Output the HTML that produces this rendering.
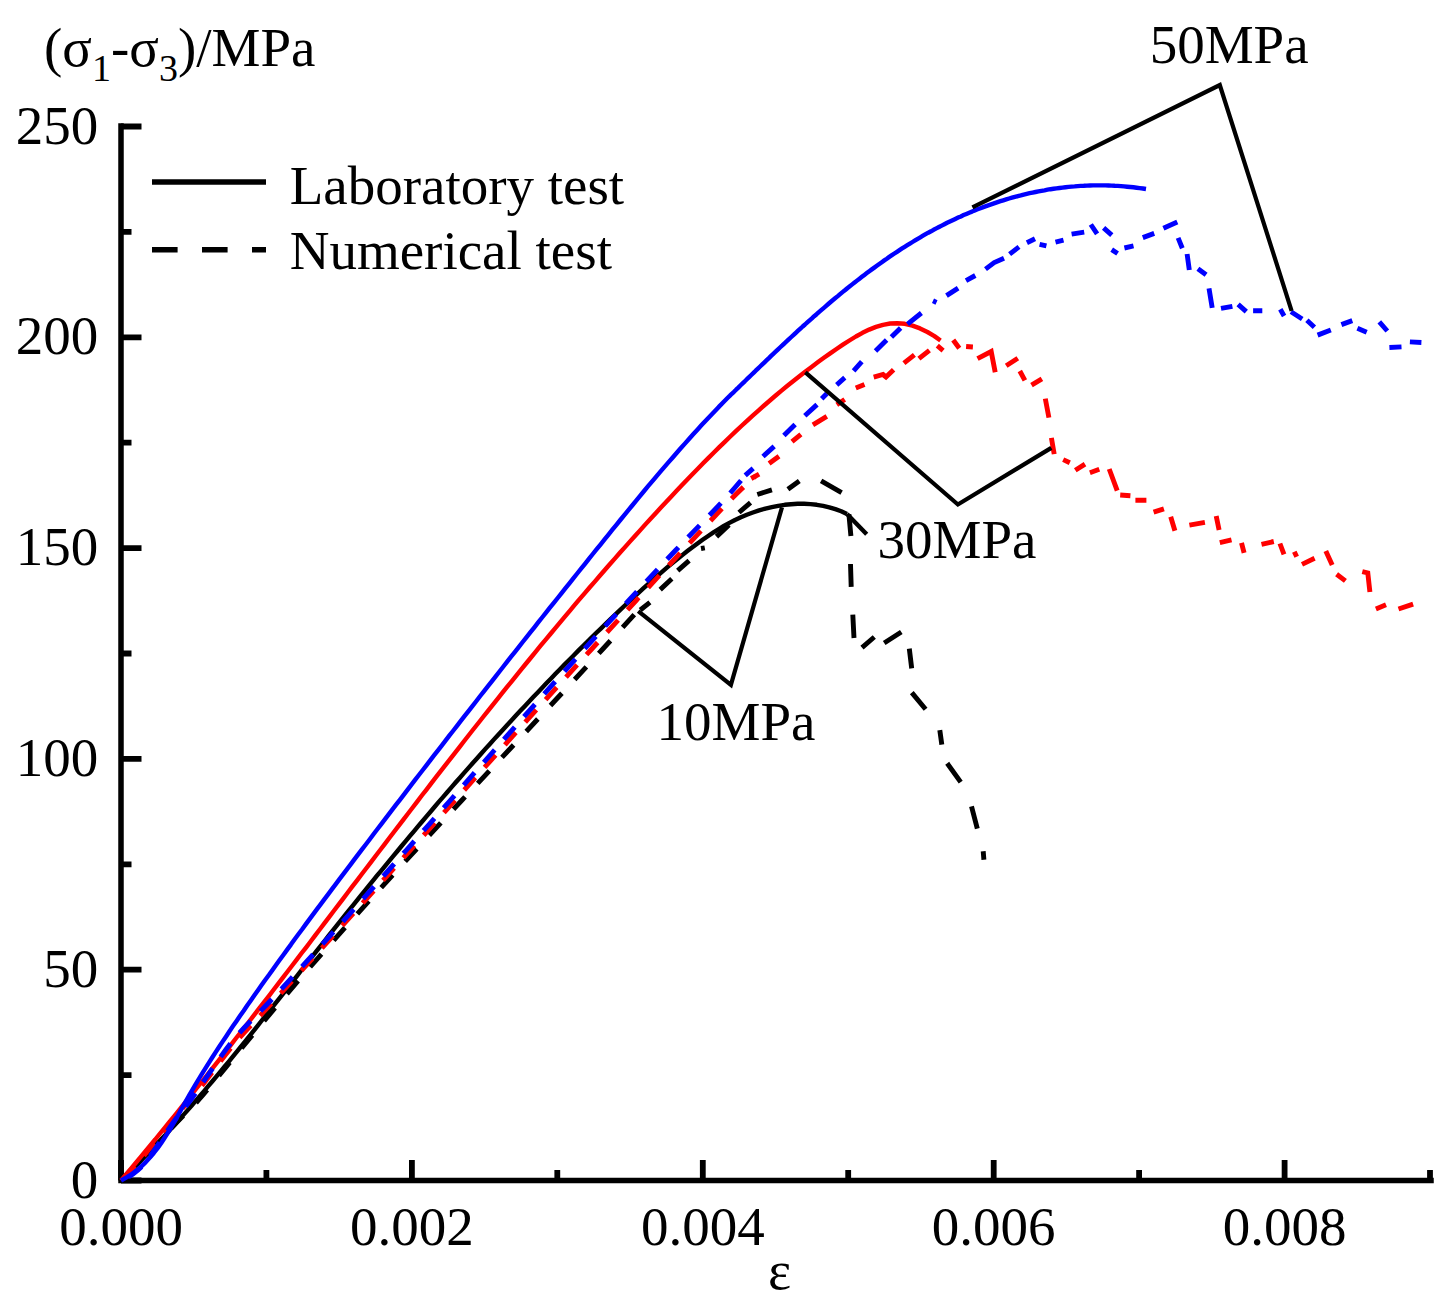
<!DOCTYPE html>
<html><head><meta charset="utf-8"><style>
html,body{margin:0;padding:0;background:#fff;}
body{width:1448px;height:1306px;overflow:hidden;font-family:"Liberation Serif",serif;}
svg{display:block;}
</style></head><body>
<svg width="1448" height="1306" viewBox="0 0 1448 1306">
<rect width="1448" height="1306" fill="#fff"/>
<g stroke="#000" stroke-width="5.5" fill="none" stroke-linecap="square">
<path d="M121,126 L121,1180.5 L1431,1180.5"/>
</g>
<path d="M121,1180.5 L141.5,1180.5 M121,1075.1 L131.5,1075.1 M121,969.7 L141.5,969.7 M121,864.3 L131.5,864.3 M121,758.9 L141.5,758.9 M121,653.5 L131.5,653.5 M121,548.1 L141.5,548.1 M121,442.7 L131.5,442.7 M121,337.3 L141.5,337.3 M121,231.9 L131.5,231.9 M121,126.5 L141.5,126.5 M121.0,1180.5 L121.0,1160 M266.4,1180.5 L266.4,1170 M411.9,1180.5 L411.9,1160 M557.3,1180.5 L557.3,1170 M702.8,1180.5 L702.8,1160 M848.2,1180.5 L848.2,1170 M993.7,1180.5 L993.7,1160 M1139.1,1180.5 L1139.1,1170 M1284.6,1180.5 L1284.6,1160 M1430.0,1180.5 L1430.0,1170" stroke="#000" stroke-width="5.8" fill="none"/>
<text x="98.3" y="1197.5" font-size="55" text-anchor="end" font-family="Liberation Serif" fill="#000">0</text>
<text x="98.3" y="986.7" font-size="55" text-anchor="end" font-family="Liberation Serif" fill="#000">50</text>
<text x="98.3" y="775.9" font-size="55" text-anchor="end" font-family="Liberation Serif" fill="#000">100</text>
<text x="98.3" y="565.1" font-size="55" text-anchor="end" font-family="Liberation Serif" fill="#000">150</text>
<text x="98.3" y="354.3" font-size="55" text-anchor="end" font-family="Liberation Serif" fill="#000">200</text>
<text x="98.3" y="143.5" font-size="55" text-anchor="end" font-family="Liberation Serif" fill="#000">250</text>
<text x="121.0" y="1245" font-size="55" text-anchor="middle" font-family="Liberation Serif" fill="#000">0.000</text>
<text x="411.9" y="1245" font-size="55" text-anchor="middle" font-family="Liberation Serif" fill="#000">0.002</text>
<text x="702.8" y="1245" font-size="55" text-anchor="middle" font-family="Liberation Serif" fill="#000">0.004</text>
<text x="993.7" y="1245" font-size="55" text-anchor="middle" font-family="Liberation Serif" fill="#000">0.006</text>
<text x="1284.6" y="1245" font-size="55" text-anchor="middle" font-family="Liberation Serif" fill="#000">0.008</text>
<text x="779.5" y="1289" font-size="55" text-anchor="middle" font-family="Liberation Serif" fill="#000">ε</text>
<text x="44" y="65.5" font-size="55" font-family="Liberation Serif" fill="#000">(σ<tspan font-size="38" dy="15.5">1</tspan><tspan dy="-15.5">-σ</tspan><tspan font-size="38" dy="15.5">3</tspan><tspan dy="-15.5">)/MPa</tspan></text>
<path d="M152,182 L266,182" stroke="#000" stroke-width="5.4" fill="none"/>
<path d="M152,249.7 L266,249.7" stroke="#000" stroke-width="5.4" fill="none" stroke-dasharray="25.6 24.4"/>
<text x="289.7" y="203.5" font-size="55" font-family="Liberation Serif" fill="#000">Laboratory test</text>
<text x="289.7" y="269" font-size="55" font-family="Liberation Serif" fill="#000">Numerical test</text>
<path d="M121.0,1180.5 L125.6,1176.0 L130.2,1171.5 L134.7,1166.9 L139.3,1162.4 L143.7,1157.8 L148.2,1153.2 L152.6,1148.5 L157.1,1143.8 L161.4,1139.1 L165.8,1134.4 L170.1,1129.7 L174.5,1124.9 L178.7,1120.2 L183.0,1115.4 L187.3,1110.6 L191.5,1105.7 L195.7,1100.9 L199.9,1096.0 L204.1,1091.1 L208.2,1086.2 L212.4,1081.3 L216.5,1076.4 L220.6,1071.5 L224.7,1066.5 L228.8,1061.6 L232.8,1056.6 L236.9,1051.6 L240.9,1046.6 L245.0,1041.6 L249.0,1036.6 L253.0,1031.6 L257.0,1026.6 L261.0,1021.5 L265.0,1016.5 L269.0,1011.5 L273.0,1006.4 L277.0,1001.4 L281.0,996.3 L284.9,991.3 L288.9,986.2 L292.9,981.1 L296.9,976.1 L300.8,971.0 L304.8,966.0 L308.8,960.9 L312.8,955.9 L316.7,950.8 L320.7,945.8 L324.7,940.8 L328.7,935.7 L332.7,930.7 L336.7,925.7 L340.7,920.7 L344.7,915.6 L348.7,910.6 L352.8,905.6 L356.8,900.6 L360.8,895.6 L364.9,890.6 L368.9,885.7 L373.0,880.7 L377.0,875.7 L381.1,870.8 L385.2,865.8 L389.3,860.8 L393.4,855.9 L397.5,851.0 L401.6,846.0 L405.7,841.1 L409.8,836.2 L413.9,831.3 L418.0,826.4 L422.2,821.5 L426.3,816.6 L430.5,811.7 L434.7,806.8 L438.8,801.9 L443.0,797.1 L447.2,792.2 L451.4,787.4 L455.6,782.5 L459.9,777.7 L464.1,772.9 L468.3,768.1 L472.6,763.3 L476.9,758.5 L481.1,753.7 L485.4,748.9 L489.7,744.2 L494.0,739.4 L498.3,734.7 L502.7,729.9 L507.0,725.2 L511.4,720.5 L515.7,715.8 L520.1,711.1 L524.5,706.4 L528.9,701.7 L533.3,697.0 L537.7,692.4 L542.2,687.7 L546.6,683.1 L551.1,678.4 L555.5,673.8 L560.0,669.2 L564.5,664.6 L569.1,660.0 L573.6,655.5 L578.1,650.9 L582.7,646.4 L587.3,641.8 L591.8,637.3 L596.4,632.8 L601.1,628.3 L605.7,623.8 L610.3,619.3 L615.0,614.9 L619.7,610.4 L624.3,606.0 L629.1,601.5 L633.8,597.1 L638.5,592.8 L643.3,588.4 L648.1,584.1 L652.9,579.8 L657.7,575.6 L662.6,571.4 L667.5,567.2 L672.4,563.1 L677.4,559.1 L682.3,555.1 L687.4,551.1 L692.4,547.3 L697.5,543.5 L702.6,539.8 L707.8,536.2 L713.1,532.7 L718.4,529.3 L723.8,526.0 L729.4,522.9 L735.0,520.0 L740.9,517.3 L746.8,514.8 L752.9,512.5 L759.1,510.4 L765.4,508.6 L771.8,507.1 L778.2,505.8 L784.7,504.8 L791.1,504.2 L797.6,503.8 L804.1,503.8 L810.5,504.1 L816.8,504.8 L823.1,505.8 L829.3,507.3 L835.3,509.1 L841.2,511.3 L847.0,514.0" stroke="#000000" stroke-width="4.4" fill="none" stroke-linecap="butt" stroke-linejoin="round"/>
<path d="M847.0,514.0 L866.7,534.2" stroke="#000000" stroke-width="4.4" fill="none" stroke-linecap="butt"/>
<path d="M121.0,1180.5 C125.8,1175.4 140.2,1160.2 150.0,1150.0 C159.8,1139.8 171.9,1127.3 180.0,1119.0 C188.1,1110.7 188.6,1111.5 198.6,1100.0 C208.6,1088.5 226.2,1066.7 240.1,1050.0 C253.9,1033.3 267.5,1016.7 281.7,1000.0 C295.9,983.3 310.4,966.7 325.1,950.0 C339.8,933.3 354.8,916.7 369.9,900.0 C385.0,883.3 400.3,866.7 415.7,850.0 C431.0,833.3 446.6,816.7 462.1,800.0 C477.7,783.3 493.3,766.7 508.9,750.0 C524.5,733.3 540.1,716.7 555.6,700.0 C571.1,683.3 591.2,661.7 601.9,650.0 C612.7,638.3 614.0,636.8 620.3,630.0 C626.5,623.2 636.2,612.5 639.3,609.0" stroke="#000000" stroke-width="4.9" fill="none" stroke-linecap="butt" stroke-dasharray="17 18.5" stroke-dashoffset="33.94"/>
<path d="M640.3,610.0 L649.9,602.4 M660.2,589.6 L671.8,578.8 M677.7,570.6 L689.1,560.6 M701.0,548.5 L704.8,547.8 M716.5,536.6 L729.0,524.9 M739.0,512.5 L750.5,502.6 M757.3,494.5 L771.9,489.9 M787.9,489.3 L799.3,481.0 M821.1,480.9 L841.6,492.7 M848.9,514.2 L850.9,536.0 M850.5,564.0 L851.2,586.9 M852.8,614.6 L854.0,638.0 M862.0,647.6 L874.3,637.0 M884.2,643.0 L901.3,632.0 M909.3,648.6 L911.7,668.4 M911.8,692.6 L925.6,709.2 M939.8,730.2 L941.8,744.7 M947.2,763.3 L960.7,782.1 M971.5,806.3 L977.3,828.7 M983.2,851.3 L983.9,859.7" stroke="#000000" stroke-width="4.9" fill="none" stroke-linecap="butt" stroke-linejoin="miter"/>
<path d="M121.0,1180.5 L125.9,1174.7 L130.8,1168.8 L135.7,1163.0 L140.6,1157.1 L145.5,1151.2 L150.3,1145.3 L155.2,1139.5 L160.0,1133.5 L164.9,1127.6 L169.7,1121.7 L174.5,1115.8 L179.3,1109.9 L184.1,1103.9 L188.9,1098.0 L193.6,1092.0 L198.4,1086.0 L203.1,1080.0 L207.9,1074.1 L212.6,1068.1 L217.4,1062.1 L222.1,1056.1 L226.8,1050.1 L231.5,1044.1 L236.2,1038.0 L240.9,1032.0 L245.6,1026.0 L250.3,1020.0 L255.0,1013.9 L259.6,1007.9 L264.3,1001.8 L269.0,995.8 L273.6,989.7 L278.3,983.7 L282.9,977.6 L287.6,971.5 L292.2,965.5 L296.9,959.4 L301.5,953.3 L306.2,947.3 L310.8,941.2 L315.4,935.1 L320.1,929.0 L324.7,922.9 L329.3,916.9 L333.9,910.8 L338.6,904.7 L343.2,898.6 L347.8,892.5 L352.4,886.4 L357.1,880.4 L361.7,874.3 L366.3,868.2 L371.0,862.1 L375.6,856.0 L380.2,850.0 L384.9,843.9 L389.5,837.8 L394.1,831.7 L398.8,825.7 L403.4,819.6 L408.1,813.5 L412.7,807.5 L417.4,801.4 L422.0,795.3 L426.7,789.3 L431.4,783.2 L436.0,777.2 L440.7,771.2 L445.4,765.1 L450.1,759.1 L454.8,753.1 L459.5,747.1 L464.2,741.0 L468.9,735.0 L473.6,729.0 L478.4,723.0 L483.1,717.0 L487.8,711.1 L492.6,705.1 L497.4,699.1 L502.1,693.2 L506.9,687.2 L511.7,681.3 L516.5,675.3 L521.3,669.4 L526.1,663.5 L531.0,657.5 L535.8,651.6 L540.6,645.7 L545.5,639.9 L550.4,634.0 L555.3,628.1 L560.1,622.3 L565.1,616.4 L570.0,610.6 L574.9,604.7 L579.8,598.9 L584.8,593.1 L589.8,587.3 L594.8,581.6 L599.8,575.8 L604.8,570.0 L609.8,564.3 L614.8,558.6 L619.9,552.8 L625.0,547.1 L630.1,541.4 L635.2,535.8 L640.3,530.1 L645.4,524.4 L650.6,518.8 L655.7,513.2 L660.9,507.6 L666.1,502.0 L671.3,496.4 L676.6,490.8 L681.8,485.3 L687.1,479.7 L692.4,474.2 L697.8,468.8 L703.1,463.3 L708.5,457.9 L713.9,452.5 L719.3,447.1 L724.8,441.8 L730.3,436.5 L735.9,431.2 L741.4,426.0 L747.0,420.8 L752.7,415.7 L758.4,410.6 L764.1,405.5 L769.9,400.5 L775.7,395.5 L781.5,390.6 L787.4,385.8 L793.4,381.0 L799.4,376.2 L805.5,371.5 L811.6,366.9 L817.7,362.3 L823.9,357.8 L830.2,353.4 L836.5,349.0 L842.9,344.7 L849.4,340.5 L855.9,336.5 L862.5,332.8 L869.2,329.6 L876.0,326.9 L883.0,324.8 L890.1,323.5 L897.3,323.2 L904.8,323.8 L912.4,325.6 L920.0,328.4 L927.4,332.0 L934.4,336.1 L940.5,340.5" stroke="#ff0000" stroke-width="4.4" fill="none" stroke-linecap="butt" stroke-linejoin="round"/>
<path d="M121.0,1180.5 C123.3,1178.2 130.2,1172.4 135.0,1167.0 C139.8,1161.6 143.3,1156.3 150.0,1148.0 C156.7,1139.7 166.7,1127.0 175.0,1117.0 C183.3,1107.0 190.0,1100.3 200.0,1088.0 C210.0,1075.7 222.6,1057.7 235.0,1043.0 C247.5,1028.3 260.4,1015.5 274.6,1000.0 C288.8,984.5 305.1,966.7 320.2,950.0 C335.3,933.3 350.4,916.7 365.4,900.0 C380.4,883.3 395.4,866.7 410.4,850.0 C425.4,833.3 440.3,816.7 455.3,800.0 C470.2,783.3 485.2,766.7 500.2,750.0 C515.2,733.3 530.2,716.7 545.3,700.0 C560.4,683.3 575.5,666.7 590.8,650.0 C606.0,633.3 621.2,616.7 636.6,600.0 C652.0,583.3 667.5,566.7 683.1,550.0 C698.7,533.3 718.3,512.3 730.3,500.0 C742.3,487.7 750.9,480.2 755.0,476.3" stroke="#ff0000" stroke-width="4.9" fill="none" stroke-linecap="butt" stroke-dasharray="16.5 13.9" stroke-dashoffset="26.99"/>
<path d="M751.2,478.5 L759.1,474.1 M769.1,463.5 L779.0,456.3 M792.0,441.6 L800.9,434.4 M812.9,424.8 L826.8,416.4 M836.8,404.8 L844.7,399.5 M855.8,388.0 L864.5,384.4 M873.7,377.1 L883.0,374.5 L886.0,377.0 L893.6,369.7 M903.9,363.2 L914.4,354.9 M918.9,358.6 L929.4,350.3 M937.3,345.7 L943.1,350.6 M953.2,340.0 L959.3,348.2 M966.1,346.5 L972.9,347.0 M977.5,358.7 L991.2,351.5 L995.2,372.2 M1006.2,365.7 L1017.8,358.2 M1019.8,371.0 L1024.9,380.4 M1031.5,385.2 L1041.9,378.9 M1045.3,398.6 L1048.9,417.6 M1051.4,437.8 L1054.2,454.1 M1063.2,459.6 L1069.8,462.7 M1075.3,470.3 L1085.0,464.1 M1089.9,472.7 L1099.3,469.3 M1109.2,469.0 L1117.2,490.6 M1120.2,495.0 L1130.4,495.7 M1135.4,500.3 L1146.4,500.3 M1153.6,512.2 L1163.9,508.8 M1170.7,516.8 L1174.9,530.8 M1189.4,525.2 L1204.9,522.4 M1216.2,516.1 L1219.1,530.1 M1219.8,542.7 L1231.5,539.9 M1241.5,542.8 L1244.1,552.8 M1261.5,544.3 L1273.8,541.5 M1279.9,543.5 L1284.0,554.4 M1294.3,551.7 L1296.7,556.7 M1302.0,564.4 L1314.6,558.3 M1325.8,550.9 L1332.2,565.0 M1336.6,574.2 L1345.4,580.9 M1362.3,571.6 L1367.8,573.0 L1369.9,592.0 M1375.9,609.0 L1386.0,604.8 M1398.5,609.0 L1413.1,604.1" stroke="#ff0000" stroke-width="4.9" fill="none" stroke-linecap="butt" stroke-linejoin="miter"/>
<path d="M121.0,1180.5 L126.6,1177.4 L131.9,1174.0 L136.8,1170.3 L141.4,1166.3 L145.8,1162.1 L149.9,1157.6 L153.8,1153.0 L157.6,1148.1 L161.1,1143.2 L164.5,1138.0 L167.8,1132.8 L171.1,1127.5 L174.2,1122.1 L177.3,1116.6 L180.3,1111.1 L183.4,1105.6 L186.5,1100.2 L189.6,1094.7 L192.7,1089.3 L195.9,1083.9 L199.1,1078.5 L202.4,1073.2 L205.7,1067.9 L209.0,1062.6 L212.4,1057.3 L215.7,1052.1 L219.2,1046.8 L222.6,1041.6 L226.1,1036.4 L229.5,1031.2 L233.0,1026.1 L236.6,1020.9 L240.1,1015.8 L243.7,1010.7 L247.2,1005.5 L250.8,1000.4 L254.4,995.3 L258.0,990.2 L261.6,985.1 L265.2,980.0 L268.9,975.0 L272.5,969.9 L276.2,964.8 L279.8,959.8 L283.5,954.7 L287.2,949.6 L290.9,944.6 L294.5,939.5 L298.2,934.5 L302.0,929.5 L305.7,924.4 L309.4,919.4 L313.1,914.4 L316.8,909.4 L320.6,904.4 L324.3,899.4 L328.1,894.4 L331.8,889.4 L335.6,884.4 L339.3,879.4 L343.1,874.4 L346.9,869.4 L350.7,864.4 L354.4,859.4 L358.2,854.4 L362.0,849.4 L365.8,844.5 L369.6,839.5 L373.3,834.5 L377.1,829.5 L380.9,824.6 L384.7,819.6 L388.5,814.6 L392.3,809.7 L396.1,804.7 L399.9,799.8 L403.7,794.8 L407.5,789.8 L411.3,784.9 L415.1,779.9 L418.9,775.0 L422.8,770.0 L426.6,765.1 L430.4,760.1 L434.2,755.2 L438.0,750.3 L441.9,745.3 L445.7,740.4 L449.5,735.4 L453.4,730.5 L457.2,725.6 L461.0,720.7 L464.9,715.7 L468.7,710.8 L472.6,705.9 L476.4,701.0 L480.2,696.0 L484.1,691.1 L488.0,686.2 L491.8,681.3 L495.7,676.4 L499.5,671.5 L503.4,666.5 L507.2,661.6 L511.1,656.7 L515.0,651.8 L518.9,646.9 L522.7,642.0 L526.6,637.1 L530.5,632.2 L534.4,627.3 L538.2,622.4 L542.1,617.5 L546.0,612.6 L549.9,607.7 L553.8,602.9 L557.7,598.0 L561.6,593.1 L565.5,588.2 L569.4,583.3 L573.3,578.4 L577.2,573.5 L581.1,568.7 L585.0,563.8 L588.9,558.9 L592.8,554.0 L596.7,549.2 L600.7,544.3 L604.6,539.4 L608.5,534.6 L612.4,529.7 L616.4,524.8 L620.3,520.0 L624.3,515.1 L628.2,510.3 L632.2,505.5 L636.2,500.6 L640.1,495.8 L644.1,491.0 L648.1,486.2 L652.2,481.4 L656.2,476.6 L660.2,471.9 L664.3,467.1 L668.4,462.4 L672.5,457.7 L676.6,453.0 L680.7,448.3 L684.9,443.6 L689.0,439.0 L693.2,434.3 L697.4,429.7 L701.6,425.1 L705.9,420.5 L710.2,416.0 L714.5,411.5 L718.8,406.9 L723.1,402.5 L727.5,398.0 L729.7,395.9 L731.8,393.8 L734.0,391.8 L736.1,389.7 L738.3,387.6 L740.4,385.5 L742.6,383.4 L744.8,381.3 L746.9,379.2 L749.1,377.1 L751.3,375.0 L753.5,372.9 L755.7,370.7 L757.9,368.6 L760.1,366.5 L762.3,364.4 L764.5,362.3 L766.7,360.2 L768.9,358.1 L771.1,355.9 L773.3,353.8 L775.6,351.7 L777.8,349.6 L780.0,347.5 L782.3,345.4 L784.5,343.3 L786.8,341.2 L789.0,339.1 L791.3,337.0 L793.6,334.9 L795.8,332.8 L798.1,330.7 L800.4,328.6 L802.7,326.5 L805.0,324.5 L807.3,322.4 L809.6,320.3 L811.9,318.3 L814.2,316.2 L816.6,314.2 L818.9,312.1 L821.2,310.1 L823.6,308.1 L825.9,306.1 L828.3,304.0 L830.6,302.0 L833.0,300.0 L835.4,298.0 L837.8,296.1 L840.1,294.1 L842.5,292.1 L844.9,290.2 L847.3,288.2 L849.8,286.3 L852.2,284.4 L854.6,282.5 L857.0,280.6 L859.5,278.7 L861.9,276.8 L864.4,274.9 L866.8,273.1 L869.3,271.2 L871.8,269.4 L874.3,267.6 L876.8,265.8 L879.3,264.0 L881.8,262.2 L884.3,260.4 L886.8,258.7 L889.3,256.9 L891.9,255.2 L894.4,253.5 L897.0,251.8 L899.5,250.1 L902.1,248.4 L904.7,246.8 L907.3,245.2 L909.9,243.6 L912.5,242.0 L915.1,240.4 L917.7,238.8 L920.3,237.3 L923.0,235.7 L925.6,234.2 L928.3,232.7 L931.0,231.3 L933.6,229.8 L936.3,228.4 L939.0,227.0 L941.7,225.6 L944.4,224.2 L947.1,222.8 L949.9,221.5 L952.6,220.2 L955.3,218.9 L958.1,217.6 L960.9,216.4 L963.6,215.1 L966.4,213.9 L969.2,212.7 L972.0,211.6 L974.8,210.4 L977.6,209.3 L980.5,208.2 L983.3,207.1 L986.1,206.1 L989.0,205.1 L991.8,204.1 L994.7,203.1 L997.6,202.1 L1000.4,201.2 L1003.3,200.3 L1006.2,199.4 L1009.1,198.5 L1012.0,197.7 L1014.9,196.9 L1017.9,196.1 L1020.8,195.4 L1023.7,194.6 L1026.7,193.9 L1029.6,193.2 L1032.6,192.6 L1035.5,192.0 L1038.5,191.4 L1041.5,190.8 L1044.5,190.3 L1047.5,189.7 L1050.5,189.2 L1053.5,188.8 L1056.5,188.4 L1059.5,188.0 L1062.5,187.6 L1065.5,187.2 L1068.6,186.9 L1071.6,186.6 L1074.6,186.4 L1077.7,186.1 L1080.7,185.9 L1083.8,185.8 L1086.9,185.6 L1089.9,185.5 L1093.0,185.4 L1096.1,185.4 L1099.2,185.4 L1102.3,185.4 L1105.4,185.4 L1108.5,185.5 L1111.6,185.6 L1114.7,185.8 L1117.8,185.9 L1120.9,186.1 L1124.0,186.4 L1127.2,186.7 L1130.3,187.0 L1133.4,187.3 L1136.6,187.7 L1139.7,188.1 L1142.9,188.5 L1146.0,189.0" stroke="#0000ff" stroke-width="4.4" fill="none" stroke-linecap="butt" stroke-linejoin="round"/>
<path d="M121.0,1180.5 C123.0,1179.4 129.0,1176.9 133.0,1174.0 C137.0,1171.1 140.5,1168.3 145.0,1163.0 C149.5,1157.7 155.0,1149.2 160.0,1142.0 C165.0,1134.8 169.9,1127.0 175.0,1120.0 C180.1,1113.0 181.2,1113.0 190.7,1100.0 C200.2,1087.0 218.4,1058.7 231.8,1042.0 C245.2,1025.3 257.0,1015.3 271.2,1000.0 C285.5,984.7 302.0,966.7 317.1,950.0 C332.3,933.3 347.2,916.7 362.1,900.0 C377.0,883.3 391.7,866.7 406.5,850.0 C421.2,833.3 435.9,816.7 450.6,800.0 C465.2,783.3 479.9,766.7 494.6,750.0 C509.3,733.3 524.0,716.7 538.8,700.0 C553.7,683.3 568.5,666.7 583.6,650.0 C598.7,633.3 613.8,616.7 629.2,600.0 C644.6,583.3 660.1,566.7 675.9,550.0 C691.7,533.3 711.7,513.2 723.9,500.0 C736.1,486.8 744.8,475.8 749.0,471.0" stroke="#0000ff" stroke-width="4.9" fill="none" stroke-linecap="butt" stroke-dasharray="16.5 13.9" stroke-dashoffset="22.10"/>
<path d="M745.2,475.4 L753.2,468.3 M763.0,456.5 L774.2,446.4 M783.9,435.6 L795.1,424.5 M804.8,415.7 L817.0,404.6 M821.7,398.8 L826.9,393.6 M836.7,384.8 L844.8,377.7 M853.6,370.9 L861.8,361.7 M875.5,351.0 L886.6,339.9 M891.4,337.1 L900.6,327.9 M907.5,324.1 L921.4,313.0 M933.0,300.8 L936.5,302.4 M946.5,295.6 L958.1,288.1 M966.0,280.7 L975.3,275.5 M985.5,269.1 L994.2,262.6 L1004.0,258.2 M1009.6,254.1 L1019.0,246.9 M1026.9,242.7 L1035.0,238.7 M1039.6,244.3 L1046.4,245.9 M1055.5,242.2 L1063.5,240.2 M1071.6,234.2 L1084.2,232.1 M1090.8,224.5 L1097.1,233.8 M1103.6,227.8 L1111.8,235.1 M1111.7,249.6 L1117.6,253.5 M1124.4,248.0 L1133.5,245.9 M1142.8,237.6 L1154.2,233.4 M1163.4,228.3 L1177.3,222.0 M1178.1,237.9 L1182.3,248.2 M1187.1,254.0 L1189.3,270.0 M1197.9,268.7 L1206.1,274.8 M1209.0,288.4 L1212.2,307.9 M1221.0,308.4 L1232.4,306.3 M1238.1,304.3 L1246.3,311.6 M1253.1,310.8 L1262.3,310.8 M1280.3,309.3 L1284.1,316.0 M1291.0,311.8 L1302.2,319.0 M1306.9,320.2 L1314.4,327.2 M1317.6,335.1 L1330.8,330.0 M1341.4,324.6 L1352.3,320.6 M1357.4,328.3 L1366.7,332.3 M1379.3,321.9 L1387.3,331.0 M1389.4,347.5 L1401.5,346.9 M1409.9,341.9 L1421.4,342.5" stroke="#0000ff" stroke-width="4.9" fill="none" stroke-linecap="butt" stroke-linejoin="miter"/>
<path d="M972.4,207.4 L1219.8,85.0 L1291.6,310.8" stroke="#000" stroke-width="4.2" fill="none" stroke-linejoin="miter"/>
<path d="M805.4,372.3 L957.9,504.5 L1051.3,447.9" stroke="#000" stroke-width="4.2" fill="none" stroke-linejoin="miter"/>
<path d="M638.2,611.1 L730.9,684.8 L782.0,507.3" stroke="#000" stroke-width="4.2" fill="none" stroke-linejoin="miter"/>
<text x="1149.7" y="63.2" font-size="55" font-family="Liberation Serif" fill="#000">50MPa</text>
<text x="877.5" y="558.4" font-size="55" font-family="Liberation Serif" fill="#000">30MPa</text>
<text x="656.5" y="740.3" font-size="55" font-family="Liberation Serif" fill="#000">10MPa</text>
</svg>
</body></html>
